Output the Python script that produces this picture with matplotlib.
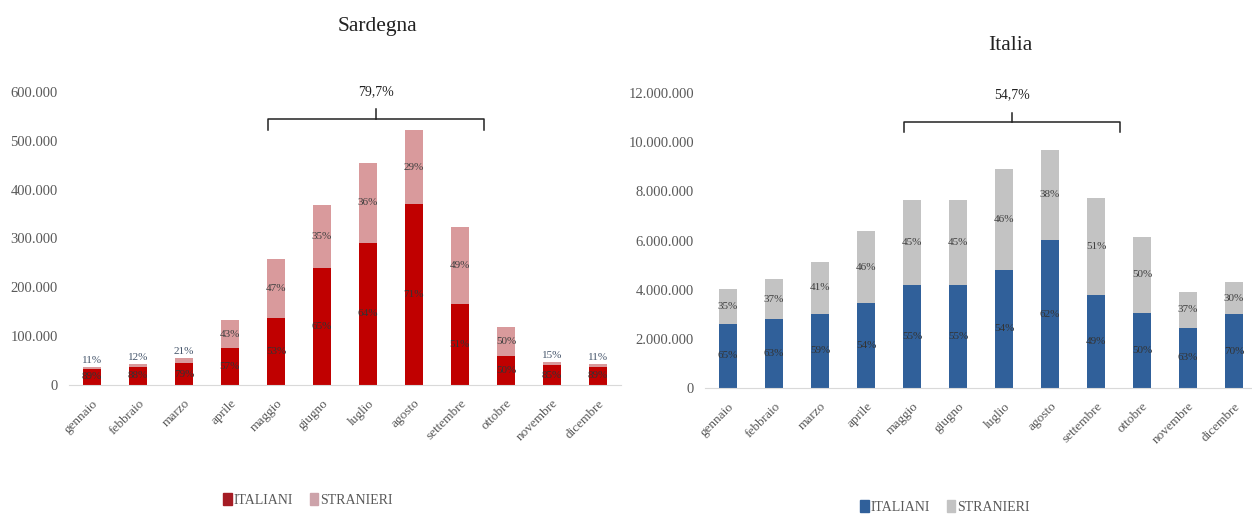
import matplotlib
matplotlib.use("Agg")
import matplotlib.pyplot as plt
from matplotlib.patches import Patch
from matplotlib.ticker import FuncFormatter
import numpy as np

plt.rcParams["font.family"] = ["Liberation Serif", "DejaVu Serif"]

mesi = ["gennaio", "febbraio", "marzo", "aprile", "maggio", "giugno",
        "luglio", "agosto", "settembre", "ottobre", "novembre", "dicembre"]

# Presenze totali per mese
sardegna_totale = [37500, 43000, 56000, 133000, 257000, 369000,
                   455000, 522000, 324000, 119000, 47500, 42000]
italia_totale = [4020000, 4430000, 5120000, 6380000, 7640000, 7640000,
                 8900000, 9700000, 7720000, 6140000, 3900000, 4300000]

# Quota di italiani (%) sul totale; gli stranieri sono il complemento
sardegna_quota_ita = [89, 88, 79, 57, 53, 65, 64, 71, 51, 50, 85, 89]
italia_quota_ita = [65, 63, 59, 54, 55, 55, 54, 62, 49, 50, 63, 70]

# Quota dei mesi maggio-settembre sul totale annuo
sardegna_quota_estate = "79,7%"
italia_quota_estate = "54,7%"

sardegna_ticks = [0, 100000, 200000, 300000, 400000, 500000, 600000]
italia_ticks = [0, 2000000, 4000000, 6000000, 8000000, 10000000, 12000000]

legenda = ["ITALIANI", "STRANIERI"]

TXT = "#595959"


def migliaia(v, _pos=None):
    return f"{int(round(v)):,}".replace(",", ".")


def pannello(ax, totale, quota_ita, colori, ticks, top, sopra, bracket_y, quota):
    x = np.arange(len(mesi))
    tot = np.array(totale, dtype=float)
    q = np.array(quota_ita, dtype=float)
    ita = tot * q / 100.0
    stra = tot - ita
    w = 0.4
    ax.bar(x, ita, width=w, color=colori[0], zorder=2)
    ax.bar(x, stra, bottom=ita, width=w, color=colori[1], zorder=2)

    for i in range(len(mesi)):
        ax.text(x[i], ita[i] / 2, f"{int(q[i])}%", ha="center", va="center",
                fontsize=8, color="#333333", zorder=3)
        s_lab = f"{int(100 - q[i])}%"
        if i in sopra:
            ax.annotate(s_lab, (x[i], tot[i]), xytext=(0, 1.5),
                        textcoords="offset points", ha="center", va="bottom",
                        fontsize=8, color="#44546A")
        else:
            ax.text(x[i], ita[i] + stra[i] / 2, s_lab, ha="center",
                    va="center", fontsize=8, color="#404040", zorder=3)

    ax.set_ylim(0, top)
    ax.set_xlim(-0.5, 11.5)
    ax.set_yticks(ticks)
    ax.yaxis.set_major_formatter(FuncFormatter(migliaia))
    ax.set_xticks(x)
    ax.set_xticklabels(mesi, rotation=45, ha="right", va="top",
                       rotation_mode="anchor", fontsize=9.5, color=TXT)
    ax.tick_params(axis="y", length=0, labelsize=10.5, colors=TXT, pad=8)
    ax.tick_params(axis="x", length=0, colors=TXT, pad=9)
    for s in ["top", "right", "left"]:
        ax.spines[s].set_visible(False)
    ax.spines["bottom"].set_color("#D9D9D9")

    # Parentesi sui mesi estivi (maggio-settembre)
    x0, x1, xm = 3.83, 8.53, 6.18
    y_line, y_end, y_mid, y_lab = bracket_y
    ax.plot([x0, x0, x1, x1], [y_end, y_line, y_line, y_end],
            color="#222222", lw=1.1, clip_on=False, zorder=4)
    ax.plot([xm, xm], [y_line, y_mid], color="#222222", lw=1.1,
            clip_on=False, zorder=4)
    ax.text(xm, y_lab, quota, ha="center", va="center", fontsize=10,
            color="#222222", clip_on=False)


fig = plt.figure(figsize=(12.52, 5.14), dpi=100)
ax1 = fig.add_axes([0.0551, 0.251, 0.4409, 0.570])
ax2 = fig.add_axes([0.5631, 0.2451, 0.4409, 0.574])

pannello(ax1, sardegna_totale, sardegna_quota_ita, ["#C00000", "#D99A9C"],
         sardegna_ticks, 600000, {0, 1, 2, 10, 11},
         (544000, 522000, 565000, 600000), sardegna_quota_estate)
pannello(ax2, italia_totale, italia_quota_ita, ["#30609A", "#C3C3C3"],
         italia_ticks, 12000000, set(),
         (10820000, 10410000, 11190000, 11930000), italia_quota_estate)

fig.text(377 / 1252, 1 - 27 / 514, "Sardegna", ha="center", va="center",
         fontsize=15.5, color="#222222")
fig.text(1010 / 1252, 1 - 45 / 514, "Italia", ha="center", va="center",
         fontsize=15.5, color="#222222")

h1 = [Patch(color="#A51C24"), Patch(color="#CDA3AA")]
h2 = [Patch(color="#30609A"), Patch(color="#C3C3C3")]
fig.legend(h1, legenda, loc="center", bbox_to_anchor=(308 / 1252, 1 - 500 / 514),
           ncol=2, frameon=False, fontsize=10, handlelength=0.6, handleheight=0.9,
           handletextpad=0.15, columnspacing=1.2, labelcolor=TXT)
fig.legend(h2, legenda, loc="center", bbox_to_anchor=(945 / 1252, 1 - 507 / 514),
           ncol=2, frameon=False, fontsize=10, handlelength=0.6, handleheight=0.9,
           handletextpad=0.15, columnspacing=1.2, labelcolor=TXT)

fig.savefig("out.png", dpi=100)
